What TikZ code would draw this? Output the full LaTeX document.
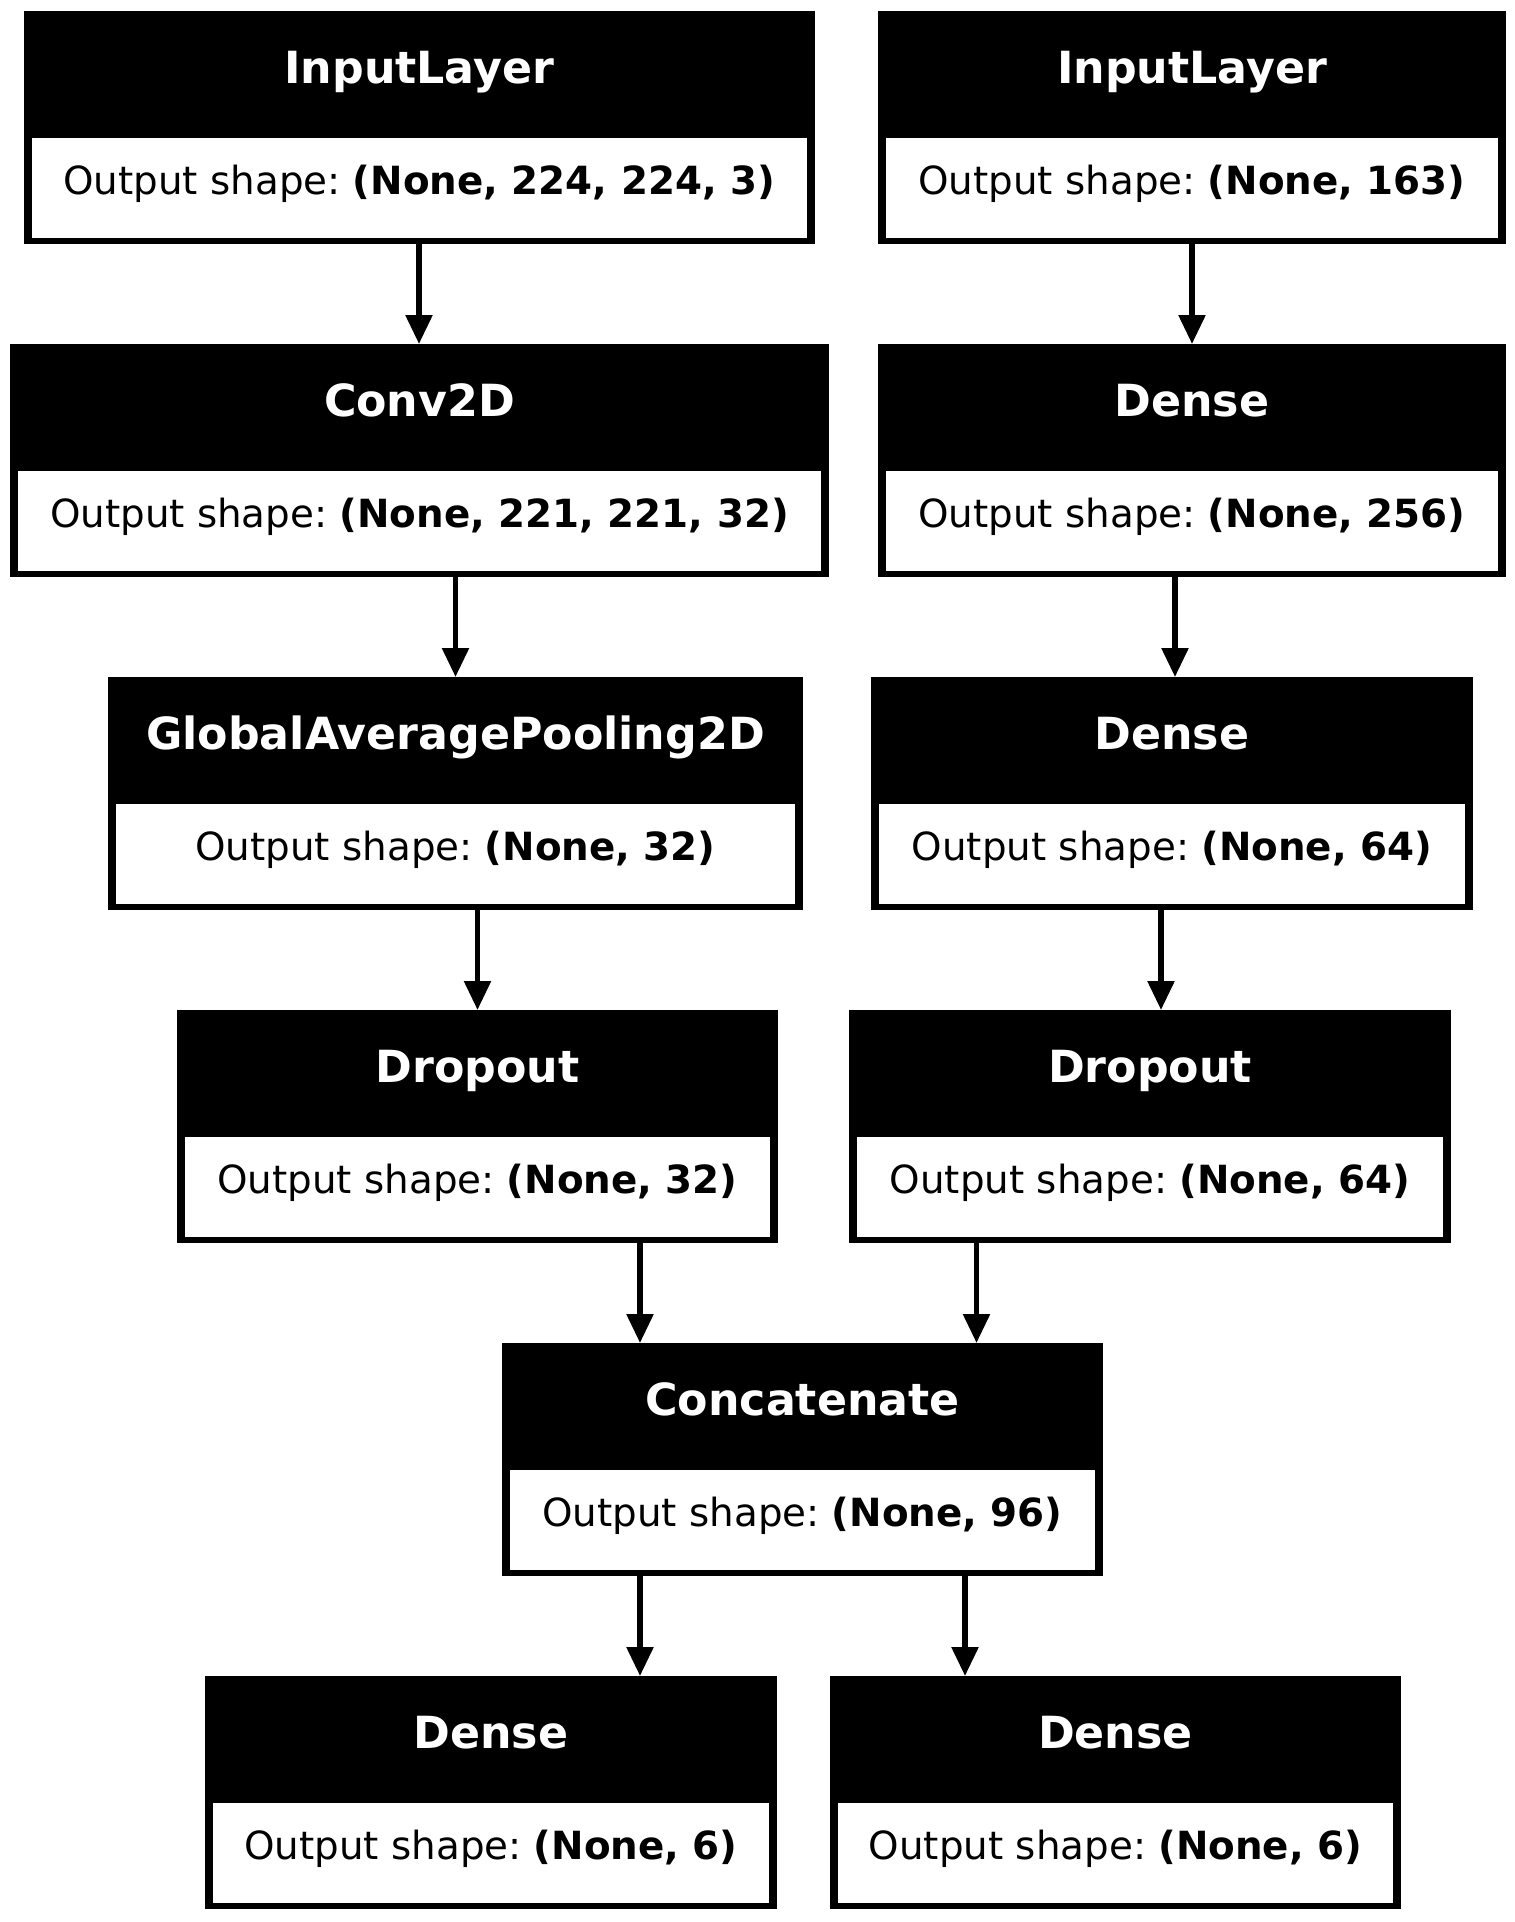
\documentclass[tikz,border=0pt]{standalone}
\usepackage{fontspec}
\setmainfont{DejaVu Sans}
\usetikzlibrary{arrows.meta}
\frenchspacing
\newcommand\hdrfont{\fontsize{44.3}{50}\bfseries\selectfont}
\newcommand\bodyfont{\fontsize{38.8}{44}\selectfont}
\tikzset{
  outerbox/.style={fill=black, draw=none, inner sep=0pt, outer sep=0pt, minimum height=233pt},
  innerbox/.style={fill=white, draw=none, inner sep=0pt, outer sep=0pt, minimum height=100pt},
  hdrtext/.style={text=white, anchor=base, inner sep=0pt, font=\hdrfont},
  bodytext/.style={text=black, anchor=base, inner sep=0pt, font=\bodyfont},
  arr/.style={line width=5.5pt, -{Triangle[length=29pt,width=26pt]}}
}
% #1 name, #2 left, #3 right, #4 top, #5 title, #6 shape
\newcommand\klayer[6]{%
  \node[outerbox, minimum width={#3pt-#2pt}] (#1) at ({(#2+#3)/2},{#4+116.5}) {};
  \node[innerbox, minimum width={#3pt-#2pt-16pt}] (#1w) at ({(#2+#3)/2},{#4+176.5}) {};
  \node[hdrtext] (#1t) at ({(#2+#3)/2},{#4+72}) {#5};
  \node[bodytext] (#1b) at ({(#2+#3)/2},{#4+183}) {\frenchspacing Output shape: \textbf{#6}};
}
\begin{document}
\begin{tikzpicture}[x=1pt,y=-1pt]
\useasboundingbox[fill=white] (0,0) rectangle (1515,1922);
\klayer{inA}{23.5}{815}{11}{InputLayer}{(None, 224, 224, 3)}
\klayer{inB}{878}{1506}{11}{InputLayer}{(None, 163)}
\klayer{conv}{10}{829}{344}{Conv2D}{(None, 221, 221, 32)}
\klayer{dA}{878}{1506}{344}{Dense}{(None, 256)}
\klayer{gap}{108}{803}{677}{GlobalAveragePooling2D}{(None, 32)}
\klayer{dB}{871}{1473}{677}{Dense}{(None, 64)}
\klayer{dropA}{177}{778}{1010}{Dropout}{(None, 32)}
\klayer{dropB}{849}{1451}{1010}{Dropout}{(None, 64)}
\klayer{cat}{502}{1103}{1343}{Concatenate}{(None, 96)}
\klayer{outA}{205}{777}{1676}{Dense}{(None, 6)}
\klayer{outB}{830}{1401}{1676}{Dense}{(None, 6)}
\coordinate (x1) at (419,0);
\coordinate (x2) at (1192,0);
\coordinate (x3) at (455.5,0);
\coordinate (x4) at (1175,0);
\coordinate (x5) at (477.5,0);
\coordinate (x6) at (1161,0);
\coordinate (x7) at (640,0);
\coordinate (x8) at (976.5,0);
\coordinate (x9) at (640,0);
\coordinate (x10) at (965,0);
\draw[arr] (inA.south -| x1) -- (conv.north -| x1);
\draw[arr] (inB.south -| x2) -- (dA.north -| x2);
\draw[arr] (conv.south -| x3) -- (gap.north -| x3);
\draw[arr] (dA.south -| x4) -- (dB.north -| x4);
\draw[arr] (gap.south -| x5) -- (dropA.north -| x5);
\draw[arr] (dB.south -| x6) -- (dropB.north -| x6);
\draw[arr] (dropA.south -| x7) -- (cat.north -| x7);
\draw[arr] (dropB.south -| x8) -- (cat.north -| x8);
\draw[arr] (cat.south -| x9) -- (outA.north -| x9);
\draw[arr] (cat.south -| x10) -- (outB.north -| x10);
\end{tikzpicture}
\end{document}
